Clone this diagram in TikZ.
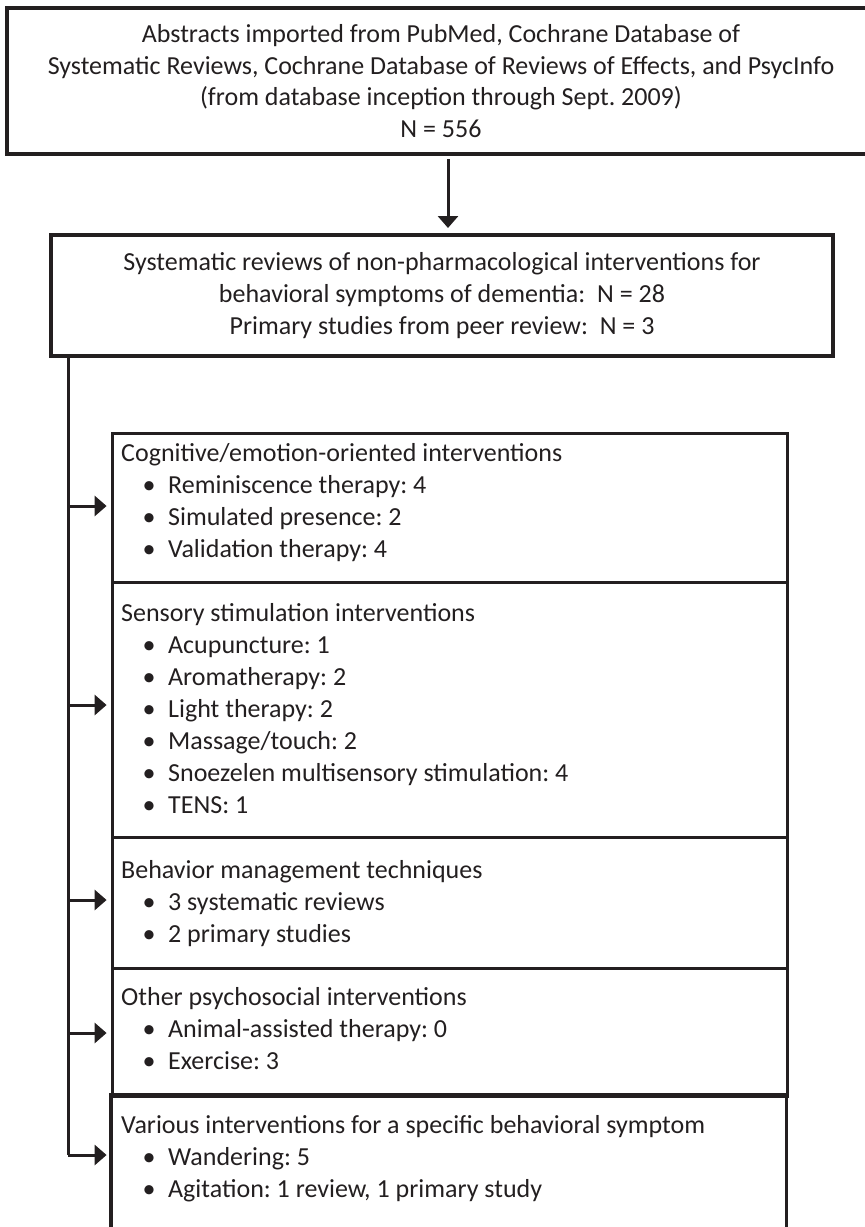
\documentclass[tikz,border=0pt]{standalone}
\usepackage{fontspec}
\setmainfont{Carlito}
\usetikzlibrary{arrows.meta}
\definecolor{ink}{RGB}{35,31,32}
\frenchspacing
\newcommand\itm[1]{\hspace*{21.5pt}\makebox[25.5pt][l]{\textbullet}#1}
\begin{document}
\frenchspacing
\begin{tikzpicture}[x=1pt,y=-1pt,
  box/.style={draw=ink,line width=3.2pt,inner sep=0pt},
  conn/.style={draw=ink,line width=3pt},
  arr/.style={draw=ink,line width=3pt,-{Triangle[length=12pt,width=20pt]}},
  txt/.style={text=ink,font=\fontsize{26}{31.7}\selectfont,inner sep=0pt},
  sect/.style={text=ink,font=\fontsize{26}{32}\selectfont,inner sep=0pt,anchor=base west},
  ]
\useasboundingbox (0,0) rectangle (865,1227);
% top box
\node[box,txt,align=center,minimum width=868pt,minimum height=146pt] (top) at (441,81)
  {Abstracts imported from PubMed, Cochrane Database of\\
   Systematic Reviews, Cochrane Database of Reviews of Effects, and PsycInfo\\
   (from database inception through Sept. 2009)\\
   N = 556};
% second box
\node[box,txt,align=center,minimum width=782pt,minimum height=121pt] (mid) at (442,295.5)
  {Systematic reviews of non-pharmacological interventions for\\
   behavioral symptoms of dementia:\ \ N = 28\\
   Primary studies from peer review:\ \ N = 3};
% sections
\node[box,anchor=north west,minimum width=675pt,minimum height=149pt] (sec1) at (111,432) {};
\node[box,anchor=north west,minimum width=675pt,minimum height=255pt] (sec2) at (111,581) {};
\node[box,anchor=north west,minimum width=675pt,minimum height=131pt] (sec3) at (111,836) {};
\node[box,anchor=north west,minimum width=675pt,minimum height=128pt] (sec4) at (111,967) {};
\node[inner sep=0pt,anchor=north west,minimum width=675pt,minimum height=132pt] (sec5) at (111,1095) {};
\draw[conn,line width=3.2pt] (sec5.south west) -- (sec5.north west) -- (sec5.north east) -- (sec5.south east);
% texts
\node[sect] (t1) at (121,461) {\begin{tabular}[t]{@{}l@{}}
  Cognitive/emotion-oriented interventions\\
  \itm{Reminiscence therapy: 4}\\
  \itm{Simulated presence: 2}\\
  \itm{Validation therapy: 4}\end{tabular}};
\node[sect] (t2) at (121,621) {\begin{tabular}[t]{@{}l@{}}
  Sensory stimulation interventions\\
  \itm{Acupuncture: 1}\\
  \itm{Aromatherapy: 2}\\
  \itm{Light therapy: 2}\\
  \itm{Massage/touch: 2}\\
  \itm{Snoezelen multisensory stimulation: 4}\\
  \itm{TENS: 1}\end{tabular}};
\node[sect] (t3) at (121,878) {\begin{tabular}[t]{@{}l@{}}
  Behavior management techniques\\
  \itm{3 systematic reviews}\\
  \itm{2 primary studies}\end{tabular}};
\node[sect] (t4) at (121,1005) {\begin{tabular}[t]{@{}l@{}}
  Other psychosocial interventions\\
  \itm{Animal-assisted therapy: 0}\\
  \itm{Exercise: 3}\end{tabular}};
\node[sect] (t5) at (121,1133) {\begin{tabular}[t]{@{}l@{}}
  Various interventions for a specific behavioral symptom\\
  \itm{Wandering: 5}\\
  \itm{Agitation: 1 review, 1 primary study}\end{tabular}};
% connectors
\coordinate (ax) at (448,0);
\draw[arr,shorten <=3.4pt,shorten >=5.4pt] (top.south -| ax) -- (mid.north -| ax);
\coordinate (corner) at (68,1155);
\draw[conn] (mid.south -| corner) -- (corner);
\draw[arr,shorten >=4.4pt] (corner) -- (sec5.west |- corner);
\draw[arr,shorten >=4.4pt] (corner |- 0,506) -- (sec1.west |- 0,506);
\draw[arr,shorten >=4.4pt] (corner |- 0,705) -- (sec2.west |- 0,705);
\draw[arr,shorten >=4.4pt] (corner |- 0,900) -- (sec3.west |- 0,900);
\draw[arr,shorten >=4.4pt] (corner |- 0,1033) -- (sec4.west |- 0,1033);
\end{tikzpicture}
\end{document}
